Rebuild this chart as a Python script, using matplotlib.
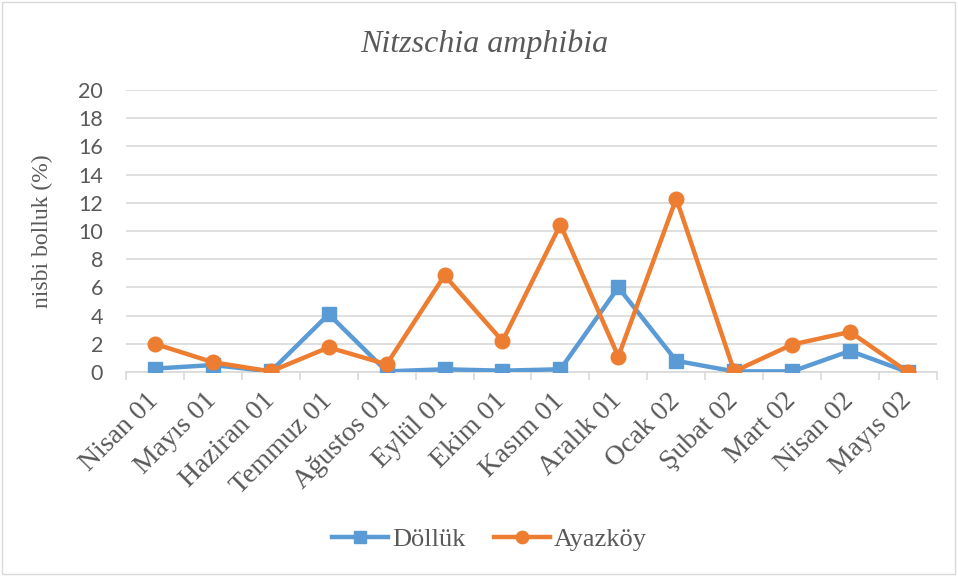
import matplotlib.pyplot as plt
from matplotlib.patches import Rectangle
import numpy as np

months = ["Nisan 01", "Mayıs 01", "Haziran 01", "Temmuz 01", "Ağustos 01", "Eylül 01",
          "Ekim 01", "Kasım 01", "Aralık 01", "Ocak 02", "Şubat 02", "Mart 02",
          "Nisan 02", "Mayıs 02"]
dollük = [0.25, 0.5, 0.05, 4.1, 0.05, 0.2, 0.1, 0.2, 6.0, 0.8, 0.05, 0.05, 1.5, 0.0]
ayazkoy = [2.0, 0.7, 0.05, 1.75, 0.55, 6.85, 2.2, 10.45, 1.1, 12.3, 0.05, 1.95, 2.85, 0.0]

text_col = "#595959"
serif = ["Liberation Serif", "DejaVu Serif"]
sans = ["Lato", "DejaVu Sans"]

fig = plt.figure(figsize=(9.58, 5.76), dpi=100)
ax = fig.add_axes([0.1315, 0.354, 0.8465, 0.49])

x = np.arange(len(months))
ax.plot(x, dollük, color="#5B9BD5", lw=3.2, marker="s", ms=9.5, label="Döllük", zorder=3)
ax.plot(x, ayazkoy, color="#ED7D31", lw=3.2, marker="o", ms=10.5, label="Ayazköy", zorder=4)

ax.set_xlim(-0.5, len(months) - 0.5)
ax.set_ylim(0, 20)
ax.set_yticks(range(0, 21, 2))
ax.yaxis.grid(True, color="#D9D9D9", lw=1.2)
ax.set_axisbelow(True)
for s in ["top", "right", "left"]:
    ax.spines[s].set_visible(False)
ax.spines["bottom"].set_color("#D9D9D9")
ax.spines["bottom"].set_linewidth(1.2)

ax.set_xticks(x)
ax.set_xticklabels(months, rotation=45, ha="right", va="center", rotation_mode="anchor",
                   fontfamily=serif, fontsize=20, color=text_col)
ax.tick_params(axis="x", which="major", length=0, pad=18)
ax.set_xticks(np.arange(-0.5, len(months)), minor=True)
ax.tick_params(axis="x", which="minor", length=6, color="#D9D9D9", width=1.2)
ax.tick_params(axis="y", length=0, pad=16.5)
for lab in ax.get_yticklabels():
    lab.set_fontfamily(sans)
    lab.set_fontsize(15.5)
    lab.set_color(text_col)

ax.set_ylabel("nisbi bolluk (%)", fontfamily=serif, fontsize=17, color=text_col, labelpad=18)
fig.text(0.506, 0.924, "Nitzschia amphibia", fontfamily=serif, style="italic",
         fontsize=23, color=text_col, ha="center", va="center")

leg = fig.legend(loc="center", bbox_to_anchor=(0.511, 0.064), ncol=2, frameon=False,
                 prop={"family": serif, "size": 19}, handlelength=2.1, columnspacing=1.1,
                 handletextpad=0.15, markerscale=0.85)
for t in leg.get_texts():
    t.set_color(text_col)

fig.patches.append(Rectangle((0.002, 0.003), 0.995, 0.994, transform=fig.transFigure,
                             fill=False, edgecolor="#D9D9D9", lw=1))

fig.savefig("out.png", dpi=100)
